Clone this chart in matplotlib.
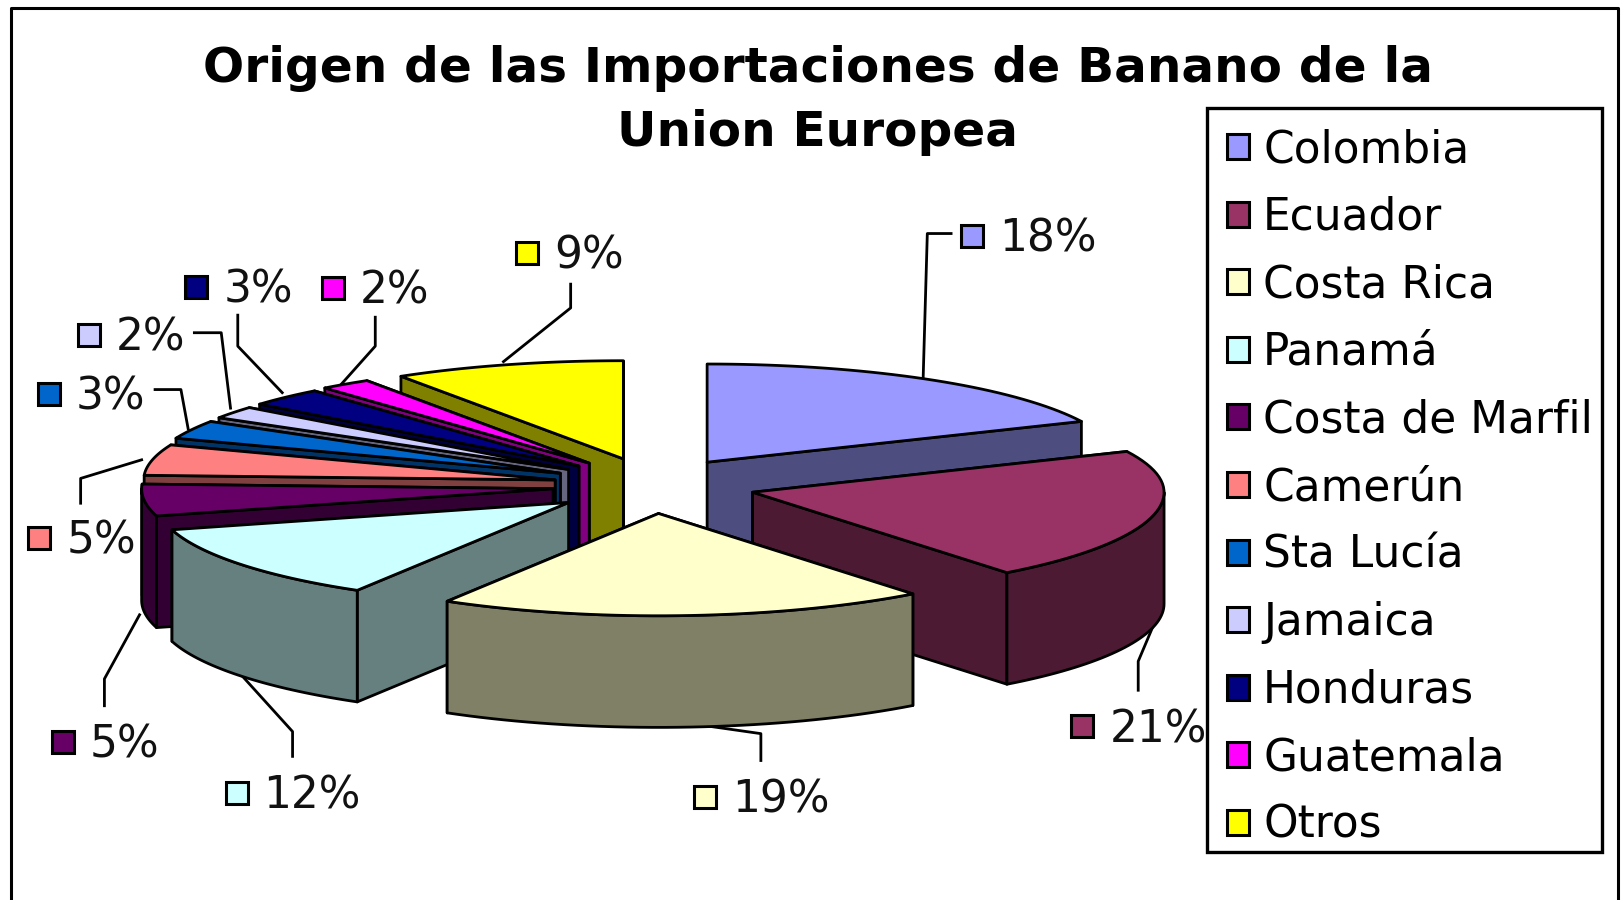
import numpy as np
import matplotlib
matplotlib.use('Agg')
import matplotlib.pyplot as plt
from matplotlib.patches import Patch, Polygon, Rectangle

title_lines = ['Origen de las Importaciones de Banano de la', 'Union Europea']
paises = ['Colombia', 'Ecuador', 'Costa Rica', 'Panamá', 'Costa de Marfil', 'Camerún',
          'Sta Lucía', 'Jamaica', 'Honduras', 'Guatemala', 'Otros']
valores = [18, 21, 19, 12, 5, 5, 3, 2, 3, 2, 9]
colores = ['#9999FF', '#993366', '#FFFFCC', '#CCFFFF', '#660066', '#FF8080',
           '#0066CC', '#CCCCFF', '#000080', '#FF00FF', '#FFFF00']

# pie geometry, in the pixel space of the axes
cx, cy = 640, 470
rx = 398
ry_back, ry_front = 95, 99  # the near half looks a bit bigger in the 3d view
depth = 108
expl_y = 27
# horizontal explode of each slice
expl_x = [44, 88, -3, -90, -105, -103, -98, -90, -80, -70, -37]

# label boxes and leader lines
marker_x = [940, 1047, 682, 229, 61, 38, 47, 86, 190, 322, 510]
marker_y = [228, 703, 771, 767, 718, 521, 381, 324, 278, 279, 245]
leader_x = [[893, 897, 920], [1120, 1101, 1101], [680, 736, 736], [235, 283, 283],
            [135, 101, 101], [137, 78, 78], [182, 175, 150], [223, 214, 188],
            [273, 230, 230], [330, 363, 363], [487, 552, 552]]
leader_y = [[365, 226, 226], [595, 640, 668], [702, 710, 736], [655, 708, 732],
            [595, 657, 683], [445, 463, 487], [415, 377, 377], [395, 322, 322],
            [380, 335, 305], [372, 335, 307], [350, 298, 275]]

LW = 2.0
FS = 31.6


def darken(color):
    rgb = np.array(matplotlib.colors.to_rgb(color))
    return tuple(rgb * 0.5)


def rim(x0, y0, a0, a1, n=40):
    a = np.radians(np.linspace(a0, a1, n))
    c = np.cos(a)
    return x0 + rx * np.sin(a), y0 - np.where(c > 0, ry_back, ry_front) * c


def face(ax, xs, ys, color, z):
    pts = np.column_stack([xs, ys])
    ax.add_patch(Polygon(pts, closed=True, facecolor=color, edgecolor='black',
                         linewidth=LW, joinstyle='round', zorder=z))


def drawSlice(ax, i, a0, a1, z):
    mid = np.radians((a0 + a1) / 2)
    x0 = cx + expl_x[i]
    y0 = cy - expl_y * np.cos(mid)
    side = darken(colores[i])

    # the two cut faces, the one further back goes first
    rims = []
    for a in (a0, a1):
        rx1, ry1 = rim(x0, y0, a, a, 1)
        rims.append((ry1[0], rx1[0]))
    rims.sort()
    for ry1, rx1 in rims:
        face(ax, [x0, rx1, rx1, x0], [y0, ry1, ry1 + depth, y0 + depth], side, z)

    # outer wall, only the front half of the rim shows
    f0, f1 = max(a0, 90), min(a1, 270)
    if f1 > f0:
        xs, ys = rim(x0, y0, f0, f1)
        face(ax, np.r_[xs, xs[::-1]], np.r_[ys, ys[::-1] + depth], side, z)

    xs, ys = rim(x0, y0, a0, a1)
    face(ax, np.r_[x0, xs], np.r_[y0, ys], colores[i], z)


def main():
    fig = plt.figure(figsize=(16.21, 9), dpi=100)
    ax = fig.add_axes([0, 0, 1, 1])
    ax.set_xlim(0, 1568)
    ax.set_ylim(871, 0)
    ax.axis('off')

    # outer frame, open at the bottom
    ax.plot([10.5, 10.5, 1565, 1565], [871, 8, 8, 871], color='black', lw=2.2, zorder=1)

    for line, y in zip(title_lines, [66, 128]):
        ax.text(791, y, line, ha='center', va='center', fontsize=34.9, fontweight='bold',
                color='black', zorder=5)

    edges = np.r_[0, np.cumsum(valores)] / sum(valores) * 360
    mids = (edges[:-1] + edges[1:]) / 2
    order = np.argsort(-np.cos(np.radians(mids)))
    for z, i in enumerate(order):
        drawSlice(ax, i, edges[i], edges[i + 1], 10 + z)

    for i, v in enumerate(valores):
        ax.plot(leader_x[i], leader_y[i], color='black', lw=LW, zorder=8)
        ax.plot(marker_x[i], marker_y[i], marker='s', ms=15.5, mfc=colores[i], mec='black',
                mew=2.2, zorder=30)
        ax.text(marker_x[i] + 26, marker_y[i] + 3, '%d%%' % v, ha='left', va='center',
                fontsize=FS, color='#111111', zorder=30)

    # frame drawn on its own so the entries can sit a little lower in it
    ax.add_patch(Rectangle((1168, 105), 382, 720, facecolor='white', edgecolor='black',
                           linewidth=2.4, zorder=39))
    handles = [Patch(facecolor=c, edgecolor='black', linewidth=2.2) for c in colores]
    leg = ax.legend(handles, paises, loc='upper right', bbox_to_anchor=(1555, 110),
                    bbox_transform=ax.transData, fontsize=FS, frameon=False,
                    borderaxespad=0, borderpad=0.33,
                    handlelength=0.5, handleheight=0.5, handletextpad=0.33,
                    labelspacing=0.56)
    leg.set_zorder(40)

    fig.savefig('out.png', dpi=100)


if __name__ == '__main__':
    main()
